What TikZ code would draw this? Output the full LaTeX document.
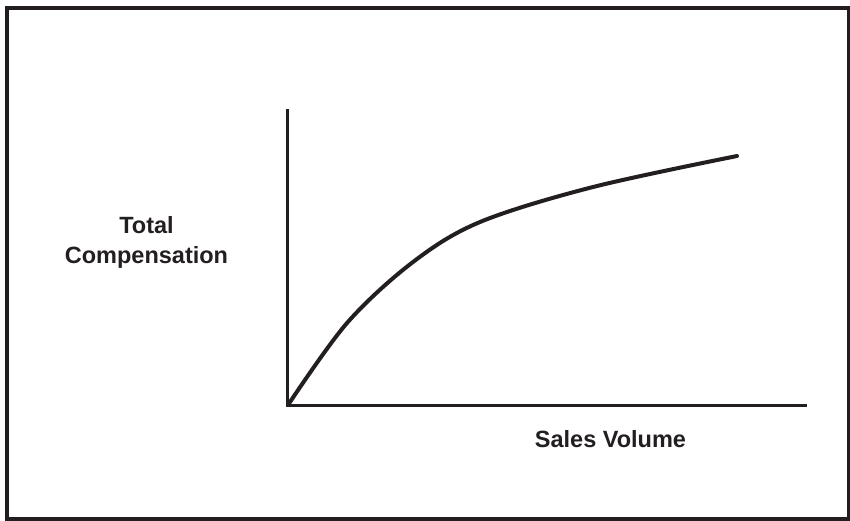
\documentclass[tikz,border=0pt]{standalone}
\usepackage{fontspec}
\setmainfont{Liberation Sans}
\definecolor{ink}{HTML}{231F20}
\tikzset{
  axisline/.style={draw=ink, line width=3.5pt},
  curveline/.style={draw=ink, line width=4pt, line cap=round},
  framebox/.style={draw=ink, line width=4pt},
  lbl/.style={text=ink, font=\fontsize{23.5}{30}\selectfont\bfseries, inner sep=0pt, align=center}
}
\begin{document}
\begin{tikzpicture}[x=1pt,y=-1pt]
\useasboundingbox (0,0) rectangle (850,520);
\clip (0,0) rectangle (850,520);
\draw[framebox] (6.7,8) rectangle (848.5,519);
\coordinate (ytop) at (287.5,109);
\coordinate (origin) at (287.5,405.5);
\coordinate (xend) at (807,405.5);
\draw[axisline] (ytop) -- (origin) -- (xend);
\draw[curveline] plot[smooth, tension=0.55] coordinates {(288,405) (347,323) (413,262) (480,222) (593,187) (737,156)};
\node[lbl, anchor=base] (ylab1) at (146.5,233) {Total};
\node[lbl, anchor=base] (ylab2) at (146.5,263) {Compensation};
\node[lbl, anchor=base] (xlab) at (610.5,447) {Sales Volume};
\end{tikzpicture}
\end{document}
